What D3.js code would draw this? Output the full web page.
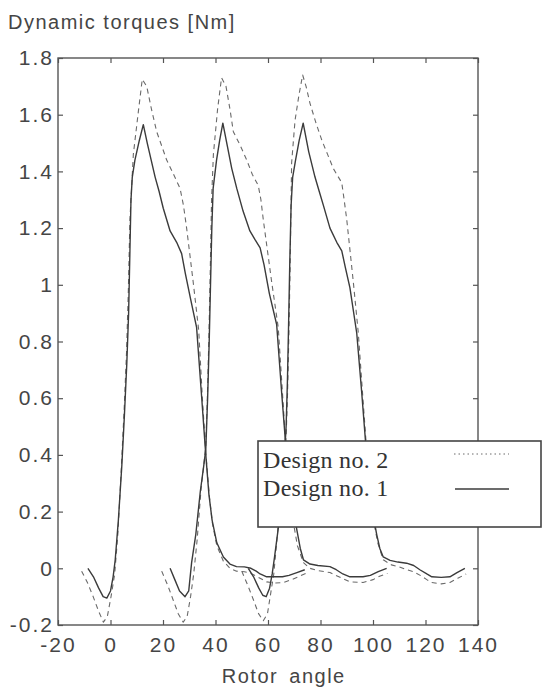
<!DOCTYPE html>
<html>
<head>
<meta charset="utf-8">
<script src="https://cdn.jsdelivr.net/npm/d3@7"></script>
<style>
  body { margin: 0; background: #fff; }
  svg { display: block; }
</style>
</head>
<body>
<div id="chart-area"></div>
<script>
// data: [rotor angle, torque]
const xTicks = [-20, 0, 20, 40, 60, 80, 100, 120, 140];
const yTicks = [-0.2, 0, 0.2, 0.4, 0.6, 0.8, 1, 1.2, 1.4, 1.6, 1.8];
const xTickLabels = ["-20", "0", "20", "40", "60", "80", "100", "120", "140"];
const yTickLabels = ["-0.2", "0", "0.2", "0.4", "0.6", "0.8", "1", "1.2", "1.4", "1.6", "1.8"];

const seriesNames = ["Design no. 2", "Design no. 1"];

const design1Pulse1 = [
  [-8.6, 0.0], [-6.5, -0.03], [-4.5, -0.07], [-2.8, -0.1], [-1.4, -0.105], [0, -0.08],
  [1, -0.03], [1.8, 0.03], [3, 0.17], [4.3, 0.36], [5.3, 0.54], [6.2, 0.72], [6.9, 0.9],
  [7.4, 1.12], [7.8, 1.3], [8.3, 1.38], [9.3, 1.44], [11, 1.51], [12.5, 1.565], [14, 1.5],
  [15.5, 1.44], [17, 1.38], [18.5, 1.33], [20.1, 1.27], [22.7, 1.19], [25.2, 1.15],
  [27.1, 1.11], [28.5, 1.04], [30.5, 0.95], [32.8, 0.85], [34.6, 0.62], [36.3, 0.4],
  [37.5, 0.26], [38.7, 0.17], [40.5, 0.09], [43, 0.04], [45.5, 0.015], [48, 0.006],
  [51, 0.005], [53.5, 0.0], [55.5, -0.01], [57, -0.02], [59.5, -0.03], [62.7, -0.03],
  [65.5, -0.03], [68, -0.025], [71, -0.015], [74, -0.005]
];
const design1Pulse2 = [
  [22.7, 0.0], [24.5, -0.04], [26.3, -0.08], [28.4, -0.1], [29.8, -0.08], [30.9, 0.02],
  [32.5, 0.12], [34.2, 0.27], [35.5, 0.36], [36.3, 0.42], [37, 0.6], [37.6, 0.8],
  [38.1, 1.0], [38.6, 1.2], [39.1, 1.34], [40.4, 1.44], [41.6, 1.51], [42.8, 1.57],
  [44.5, 1.49], [46.2, 1.41], [48.1, 1.34], [50.5, 1.26], [53.1, 1.19], [55, 1.16],
  [57, 1.13], [58.5, 1.07], [60.5, 0.97], [63.3, 0.86], [65.2, 0.62], [66.8, 0.43],
  [68.5, 0.28], [70.9, 0.14], [72.3, 0.07], [73.5, 0.03], [76, 0.015], [79, 0.01],
  [83.6, 0.006], [86, -0.005], [88.5, -0.02], [91.2, -0.03], [96.2, -0.03], [99, -0.025],
  [102, -0.012], [105.2, 0.0]
];
const design1Pulse3 = [
  [52.5, 0.0], [54.5, -0.03], [56.5, -0.07], [58, -0.095], [59.3, -0.1], [60.6, -0.07],
  [61.6, -0.02], [62.5, 0.04], [63.9, 0.14], [65.2, 0.29], [66.3, 0.4], [66.9, 0.5],
  [67.4, 0.66], [67.8, 0.84], [68.3, 1.08], [68.8, 1.28], [69.4, 1.38], [70.5, 1.44],
  [71.9, 1.51], [73.4, 1.57], [75.5, 1.47], [77.9, 1.38], [79.5, 1.33], [81.1, 1.28],
  [83.6, 1.2], [86.2, 1.15], [88.1, 1.12], [89.5, 1.06], [91.2, 0.99], [93.8, 0.83],
  [95.7, 0.62], [97.3, 0.43], [98.5, 0.3], [99.8, 0.2], [101.4, 0.12], [102.6, 0.07],
  [103.9, 0.04], [106.5, 0.028], [109.5, 0.022], [112.8, 0.018], [115.5, 0.01],
  [118, -0.006], [120.5, -0.02], [122.4, -0.03], [126, -0.032], [129.3, -0.03],
  [132, -0.015], [135, 0.0]
];

const design2Pulse1 = [
  [-11, -0.01], [-8.8, -0.05], [-6.6, -0.1], [-4.6, -0.15], [-2.7, -0.19], [-1.2, -0.17],
  [0.2, -0.1], [1.6, -0.02], [2.8, 0.12], [4, 0.33], [5.2, 0.56], [6.1, 0.76], [6.8, 0.98],
  [7.4, 1.23], [8.7, 1.46], [10.6, 1.61], [12.1, 1.725], [13.8, 1.7], [15.6, 1.62],
  [17.6, 1.54], [19.5, 1.49], [21.4, 1.44], [24, 1.39], [26.5, 1.34], [27.8, 1.28],
  [29, 1.2], [31.5, 1.01], [33.6, 0.84], [35, 0.6], [36.3, 0.41], [37.6, 0.26],
  [38.8, 0.16], [40.5, 0.08], [43, 0.025], [45.5, 0.0], [48, -0.01], [51, -0.012],
  [53.5, -0.018], [56, -0.03], [59.5, -0.048], [62.7, -0.052], [66, -0.05], [69, -0.04],
  [72, -0.028], [74.5, -0.018]
];
const design2Pulse2 = [
  [19.5, -0.01], [21.8, -0.06], [23.8, -0.11], [25.8, -0.16], [27.7, -0.19], [29.2, -0.17],
  [30.5, -0.1], [31.7, -0.02], [33, 0.1], [34.5, 0.28], [35.6, 0.37], [36.3, 0.43],
  [36.9, 0.6], [37.5, 0.82], [38, 1.05], [38.5, 1.3], [39.2, 1.46], [40.8, 1.62],
  [42.3, 1.73], [44, 1.7], [45.5, 1.62], [46.8, 1.54], [49.5, 1.49], [51.9, 1.44],
  [54, 1.39], [56.3, 1.35], [57.3, 1.3], [58.2, 1.23], [61.4, 1.01], [63.9, 0.85],
  [65.5, 0.62], [66.8, 0.43], [68.2, 0.28], [69.5, 0.17], [71.2, 0.08], [73.5, 0.02],
  [76, 0.0], [79, -0.008], [83.6, -0.015], [87, -0.03], [91.2, -0.048], [96.2, -0.05],
  [100, -0.04], [102.5, -0.028], [105.5, -0.018]
];
const design2Pulse3 = [
  [50, -0.01], [52.3, -0.06], [54.4, -0.11], [56.4, -0.16], [58.2, -0.185], [59.8, -0.16],
  [61, -0.09], [62.2, -0.02], [63.4, 0.1], [64.8, 0.26], [66, 0.37], [66.8, 0.44],
  [67.4, 0.6], [67.9, 0.8], [68.4, 1.05], [69, 1.43], [70.3, 1.58], [71.8, 1.67],
  [73.2, 1.74], [74.5, 1.7], [76, 1.64], [78.3, 1.57], [80.5, 1.51], [82.7, 1.46],
  [84.9, 1.41], [88.1, 1.36], [89, 1.3], [90, 1.23], [92.5, 1.01], [94.4, 0.83],
  [96, 0.62], [97.4, 0.44], [98.8, 0.28], [100.2, 0.17], [101.8, 0.09], [103.9, 0.03],
  [107, 0.012], [110, 0.005], [112.8, -0.005], [115.5, -0.012], [118, -0.025],
  [120.5, -0.04], [122.4, -0.05], [126, -0.055], [129.3, -0.05], [132.3, -0.035],
  [135.5, -0.02]
];

const lineDark = "#3b3b3b";
const lineDashed = "#6a6a6a";
const textGray = "#454545";

const width = 543;
const height = 691;
const margin = { top: 58, right: 65, bottom: 66, left: 58 };
const boundedWidth = width - margin.left - margin.right;
const boundedHeight = height - margin.top - margin.bottom;

const series = [
  { name: seriesNames[0], pulses: [design2Pulse1, design2Pulse2, design2Pulse3], dashed: true },
  { name: seriesNames[1], pulses: [design1Pulse1, design1Pulse2, design1Pulse3], dashed: false },
];

const svg = d3
  .select("#chart-area")
  .append("svg")
  .attr("width", width)
  .attr("height", height)
  .style("background", "#fff");

const g = svg
  .append("g")
  .attr("transform", `translate(${margin.left}, ${margin.top})`);

const x = d3.scaleLinear().domain([-20, 140]).range([0, boundedWidth]);
const y = d3.scaleLinear().domain([-0.2, 1.8]).range([boundedHeight, 0]);

//axes, matlab style: ticks inward on all four sides
const xAxis = d3.axisBottom(x)
  .tickValues(xTicks)
  .tickFormat((d, i) => xTickLabels[i])
  .tickSize(-5)
  .tickPadding(12);

const yAxis = d3.axisLeft(y)
  .tickValues(yTicks)
  .tickFormat((d, i) => yTickLabels[i])
  .tickSize(-5)
  .tickPadding(4);

g.append("g")
  .attr("class", "axis")
  .attr("transform", `translate(0, ${boundedHeight})`)
  .call(xAxis);

g.append("g").attr("class", "axis").call(yAxis);

g.append("g")
  .attr("class", "axis")
  .call(d3.axisTop(x).tickValues(xTicks).tickFormat("").tickSize(-5));

g.append("g")
  .attr("class", "axis")
  .attr("transform", `translate(${boundedWidth}, 0)`)
  .call(d3.axisRight(y).tickValues(yTicks).tickFormat("").tickSize(-5));

g.selectAll(".axis .domain").remove();
g.selectAll(".axis line").attr("stroke", "#555").attr("stroke-width", 1.2);
g.selectAll(".axis text")
  .attr("fill", textGray)
  .style("font-family", "'Liberation Sans', Arial, sans-serif")
  .style("font-size", "21px")
  .style("letter-spacing", "2px");

// frame
g.append("rect")
  .attr("x", 0)
  .attr("y", 0)
  .attr("width", boundedWidth)
  .attr("height", boundedHeight)
  .attr("fill", "none")
  .attr("stroke", "#555")
  .attr("stroke-width", 1.4);

//draw lines
const line = d3.line()
  .x((d) => x(d[0]))
  .y((d) => y(d[1]));

series.forEach((s) => {
  g.selectAll(null)
    .data(s.pulses)
    .enter()
    .append("path")
    .attr("d", line)
    .attr("fill", "none")
    .attr("stroke", s.dashed ? lineDashed : lineDark)
    .attr("stroke-width", s.dashed ? 1.1 : 1.4)
    .attr("stroke-dasharray", s.dashed ? "5,4" : null)
    .attr("stroke-linejoin", "round");
});

//TEXT
svg.append("text")
  .attr("x", 8)
  .attr("y", 29)
  .attr("fill", textGray)
  .style("font-family", "'Liberation Sans', Arial, sans-serif")
  .style("font-size", "20px")
  .style("letter-spacing", "1.5px")
  .text("Dynamic torques [Nm]");

svg.append("text")
  .attr("x", margin.left + x(66))
  .attr("y", 683)
  .attr("text-anchor", "middle")
  .attr("fill", textGray)
  .style("font-family", "'Liberation Sans', Arial, sans-serif")
  .style("font-size", "20px")
  .style("letter-spacing", "1.5px")
  .style("word-spacing", "4px")
  .text("Rotor angle");

// legend box, hangs over the right edge of the axes
const legend = svg.append("g").attr("transform", "translate(258, 441)");

legend.append("rect")
  .attr("width", 283)
  .attr("height", 86)
  .attr("fill", "#fff")
  .attr("stroke", "#444")
  .attr("stroke-width", 1.6);

const legendRows = legend
  .selectAll(".legend-row")
  .data(series)
  .enter()
  .append("g")
  .attr("class", "legend-row")
  .attr("transform", (d, i) => `translate(0, ${i * 28})`);

legendRows.append("text")
  .attr("x", 5)
  .attr("y", 27)
  .attr("fill", "#333")
  .style("font-family", "'Liberation Serif', 'Times New Roman', serif")
  .style("font-size", "24px")
  .style("letter-spacing", "0.3px")
  .text((d) => d.name);

legendRows.append("line")
  .attr("x1", (d) => (d.dashed ? 196 : 197))
  .attr("x2", 251)
  .attr("y1", (d) => (d.dashed ? 13 : 20))
  .attr("y2", (d) => (d.dashed ? 13 : 20))
  .attr("stroke", (d) => (d.dashed ? lineDashed : lineDark))
  .attr("stroke-width", (d) => (d.dashed ? 1 : 1.4))
  .attr("stroke-dasharray", (d) => (d.dashed ? "1.5,3" : null));
</script>
</body>
</html>
